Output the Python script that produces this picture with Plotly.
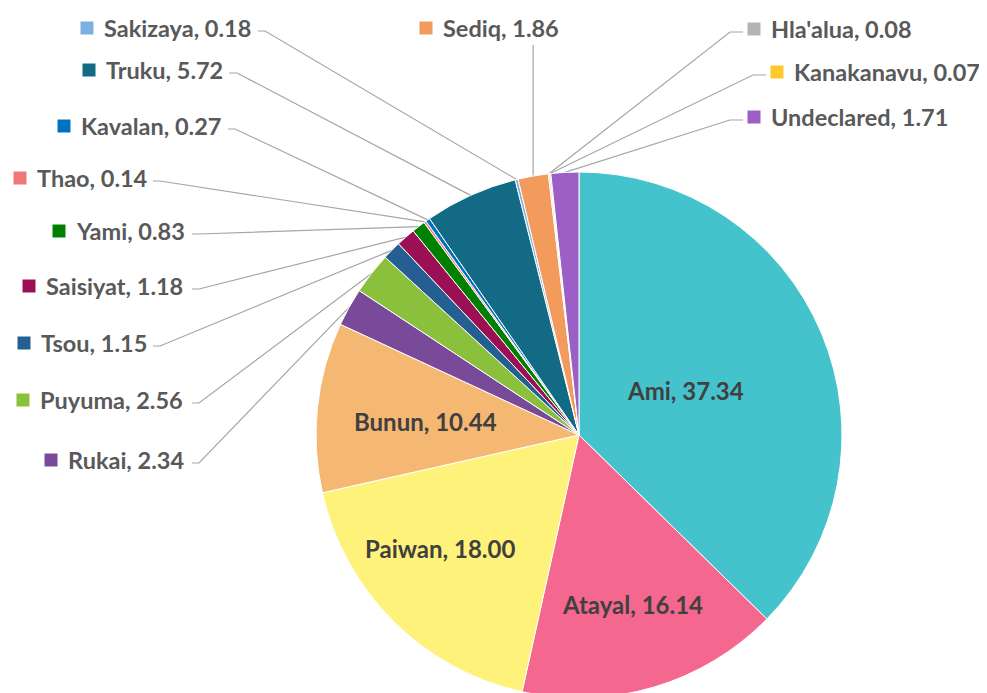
import math
import plotly.graph_objects as go

# ---------------- data ----------------
groups = ["Ami", "Atayal", "Paiwan", "Bunun", "Rukai", "Puyuma", "Tsou", "Saisiyat",
          "Yami", "Thao", "Kavalan", "Truku", "Sakizaya", "Sediq", "Hla'alua",
          "Kanakanavu", "Undeclared"]
shares = [37.34, 16.14, 18.00, 10.44, 2.34, 2.56, 1.15, 1.18,
          0.83, 0.14, 0.27, 5.72, 0.18, 1.86, 0.08, 0.07, 1.71]

# ---------------- style ----------------
colors = ["#45C3CC", "#F4678F", "#FFF27A", "#F5B872", "#7A4A9A", "#8BC03C", "#255E91",
          "#9B1055", "#008000", "#F0767A", "#0070C0", "#126A85", "#7EAFE0", "#F29B5C",
          "#B4B4B4", "#FFC92E", "#9B5FC6"]
W, H = 987, 693
OFF = 8                      # page offset of the figure (body margin), screen pixels
CX, CY, R = 579, 435, 263    # pie centre / radius in screen pixels
FONT = "Lato"
LINE_COLOR = "#A6A6A6"

# inside label layout (screen pixels)
inside_layout = {
    "Ami": (685, 390),
    "Atayal": (632, 604),
    "Paiwan": (440, 548),
    "Bunun": (425, 421),
}

# outside label layout (screen pixels): square x, y, line start x, bend x
label_layout = {
    "Sakizaya":   (87, 28, 258, 265),
    "Truku":      (89, 70, 229, 237),
    "Kavalan":    (64, 126, 228, 235),
    "Thao":       (20, 178, 153, 160),
    "Yami":       (59, 231, 192, 199),
    "Saisiyat":   (29, 286, 192, 199),
    "Tsou":       (24, 343, 153, 160),
    "Puyuma":     (23, 400, 192, 199),
    "Rukai":      (51, 460, 192, 199),
    "Sediq":      (426, 28, None, None),
    "Hla'alua":   (754, 29, 743, 730),
    "Kanakanavu": (777, 72, 766, 753),
    "Undeclared": (754, 117, 743, 730),
}

fig = go.Figure()

pcx, pcy = CX - OFF, CY - OFF
fig.add_trace(go.Pie(
    labels=groups, values=shares, sort=False, direction="clockwise", rotation=0,
    marker=dict(colors=colors, line=dict(color="white", width=1)),
    textinfo="none",
    hoverinfo="skip", showlegend=False,
    domain=dict(x=[(pcx - R) / W, (pcx + R) / W], y=[(H - pcy - R) / H, (H - pcy + R) / H]),
))

total = sum(shares)
cum = 0.0
lx, ly = [], []
sq_x, sq_y, sq_c = [], [], []
annotations = []
for g, v, c in zip(groups, shares, colors):
    mid = (cum + v / 2) / total * 2 * math.pi
    cum += v
    if g in inside_layout:
        x, y = inside_layout[g]
        annotations.append(dict(
            x=x, y=y, xref="x", yref="y", xanchor="center", yanchor="middle",
            text=f"<b>{g}, {v:.2f}</b>", showarrow=False,
            font=dict(family=FONT, size=24, color="#404040"),
        ))
        continue
    ex = CX + R * math.sin(mid)
    ey = CY - R * math.cos(mid)
    sx, y, start_x, bend_x = label_layout[g]
    if start_x is None:
        lx += [ex, ex, None]
        ly += [y + 17, ey, None]
    else:
        lx += [start_x, bend_x, ex, None]
        ly += [y + 3, y + 3, ey, None]
    sq_x.append(sx)
    sq_y.append(y)
    sq_c.append(c)
    annotations.append(dict(
        x=sx + 15, y=y, xref="x", yref="y", xanchor="left", yanchor="middle",
        text=f"<b>{g}, {v:.2f}</b>", showarrow=False,
        font=dict(family=FONT, size=23.5, color="#595959"),
    ))

fig.add_trace(go.Scatter(x=lx, y=ly, mode="lines",
                         line=dict(color=LINE_COLOR, width=1.2),
                         hoverinfo="skip", showlegend=False))
fig.add_trace(go.Scatter(x=sq_x, y=sq_y, mode="markers",
                         marker=dict(symbol="square", size=13, color=sq_c, line=dict(width=0)),
                         hoverinfo="skip", showlegend=False))

fig.update_layout(
    width=W, height=H,
    margin=dict(l=0, r=0, t=0, b=0),
    paper_bgcolor="white", plot_bgcolor="white",
    xaxis=dict(range=[OFF, OFF + W], visible=False, fixedrange=True, domain=[0, 1]),
    yaxis=dict(range=[OFF + H, OFF], visible=False, fixedrange=True, domain=[0, 1]),
    annotations=annotations,
)

fig.write_html("out.html")
